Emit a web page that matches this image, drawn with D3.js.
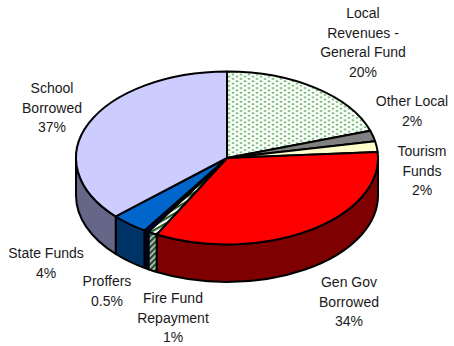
<!DOCTYPE html>
<html>
<head>
<meta charset="utf-8">
<script src="https://cdn.jsdelivr.net/npm/d3@7"></script>
<style>
html,body{margin:0;padding:0;background:#fff}
svg{display:block}
text{font-family:"Liberation Sans",Arial,sans-serif;font-size:14px;fill:#1a1a1a}
</style>
</head>
<body>
<svg id="chart" width="454" height="346"></svg>
<script>
const categories = ["Local Revenues - General Fund","Other Local","Tourism Funds","Gen Gov Borrowed","Fire Fund Repayment","Proffers","State Funds","School Borrowed"];
const values = [20,2,2,34,1,0.5,4,37];
const valueLabels = ["20%","2%","2%","34%","1%","0.5%","4%","37%"];
const labelLines = [
  ["Local","Revenues -","General Fund","20%"],
  ["Other Local","2%"],
  ["Tourism","Funds","2%"],
  ["Gen Gov","Borrowed","34%"],
  ["Fire Fund","Repayment","1%"],
  ["Proffers","0.5%"],
  ["State Funds","4%"],
  ["School","Borrowed","37%"]
];
const topFills = ["url(#dots)","#808080","#ffffcc","#ff0000","url(#stripesTop)","#000066","#0066cc","#ccccff"];
const sideFills = ["#7f7f7f","#404040","#80805f","#7f0000","url(#stripesSide)","#000033","#003366","#666688"];
const labelAnchors = [[363,18],[412,106],[422,156],[349,287],[173,303],[107,286],[46,258],[52,93]];

const cx = 227, cy = 158, rx = 151, ry = 86.5, depth = 37.5;
const lineStep = 19.7;

const svg = d3.select("#chart");
const defs = svg.append("defs");

const dots = defs.append("pattern").attr("id","dots").attr("patternUnits","userSpaceOnUse")
  .attr("width",8).attr("height",8);
dots.append("rect").attr("width",8).attr("height",8).attr("fill","#fff");
dots.append("circle").attr("cx",2).attr("cy",2).attr("r",1.5).attr("fill","#66b866");
dots.append("circle").attr("cx",6).attr("cy",6).attr("r",1.5).attr("fill","#66b866");

const stripes = (id, bg, fg, w) => {
  const p = defs.append("pattern").attr("id",id).attr("patternUnits","userSpaceOnUse")
    .attr("width",w).attr("height",w).attr("patternTransform","rotate(45)");
  p.append("rect").attr("width",w).attr("height",w).attr("fill",bg);
  p.append("rect").attr("width",w/2).attr("height",w).attr("fill",fg);
};
stripes("stripesTop","#ffffff","#1f5a1f",6);
stripes("stripesSide","#a9b8a9","#1f4a2f",4);

const pie = d3.pie().sort(null).value(d => d)(values);

const xScale = d3.scaleLinear().domain([-1,1]).range([cx-rx,cx+rx]);
const yScale = d3.scaleLinear().domain([-1,1]).range([cy-ry,cy+ry]);
const px = a => xScale(Math.sin(a));
const py = (a, dz = 0) => yScale(-Math.cos(a)) + dz;

// Front wall of a slice: only the part between 90 and 270 degrees faces the viewer.
function wallPath(d) {
  const a0 = Math.max(d.startAngle, Math.PI/2);
  const a1 = Math.min(d.endAngle, 3*Math.PI/2);
  if (a1 <= a0) return null;
  return `M${px(a0)},${py(a0)}A${rx},${ry} 0 0 1 ${px(a1)},${py(a1)}` +
         `L${px(a1)},${py(a1,depth)}A${rx},${ry} 0 0 0 ${px(a0)},${py(a0,depth)}Z`;
}

svg.append("g").selectAll("path")
  .data(pie.filter(d => wallPath(d)))
  .join("path")
  .attr("d", wallPath)
  .attr("fill", d => sideFills[d.index])
  .attr("stroke","#000").attr("stroke-width",2).attr("stroke-linejoin","round");

const arc = d3.arc().innerRadius(0).outerRadius(rx);
svg.append("g").attr("transform",`translate(${cx},${cy}) scale(1,${ry/rx})`)
  .selectAll("path").data(pie).join("path")
  .attr("d", arc)
  .attr("fill", d => topFills[d.index])
  .attr("stroke","#000").attr("stroke-width",2).attr("stroke-linejoin","round")
  .attr("vector-effect","non-scaling-stroke");

const labels = svg.append("g").attr("text-anchor","middle");
labelLines.forEach((lines,i) => {
  const t = labels.append("text");
  lines.forEach((s,j) => t.append("tspan")
    .attr("x",labelAnchors[i][0]).attr("y",labelAnchors[i][1]+j*lineStep).text(s));
});
</script>
</body>
</html>
